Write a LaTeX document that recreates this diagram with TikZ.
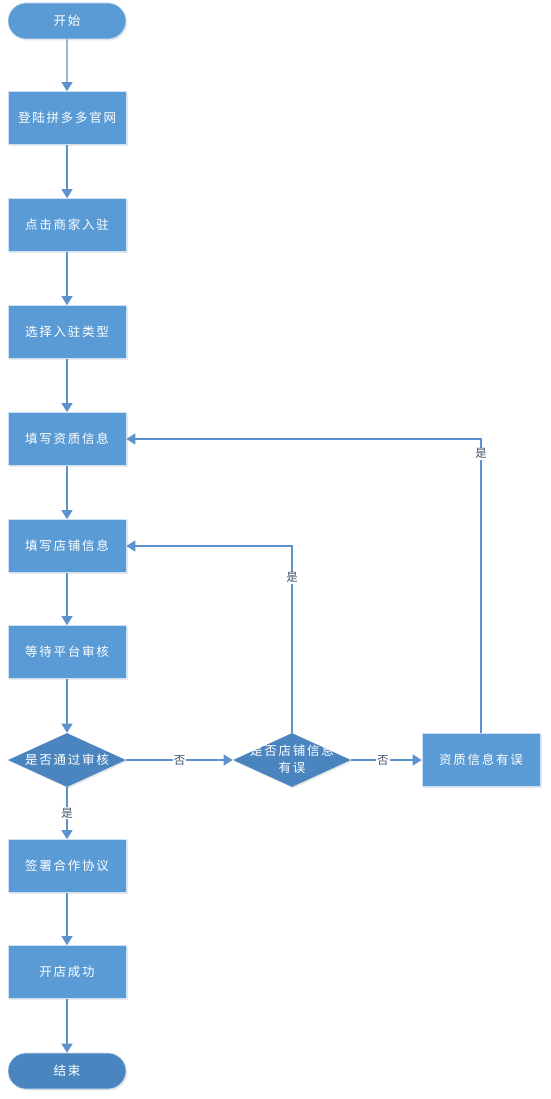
\documentclass[tikz,border=0pt]{standalone}
\usepackage{fontspec}
\setmainfont{Noto Sans CJK SC}
\newfontfamily\cjk[LetterSpace=14]{Noto Sans CJK SC}
\usetikzlibrary{shapes.geometric,shapes.misc,arrows.meta,shadows}
\definecolor{boxblue}{HTML}{5B9BD5}
\definecolor{dkblue}{HTML}{4A85C0}
\definecolor{lineblue}{HTML}{5E92CC}
\definecolor{lbltext}{HTML}{44546A}
\tikzset{
  base/.style={draw=white!70!boxblue, line width=0.6pt, text=white,
    font=\cjk\fontsize{12.5}{17}\selectfont, inner sep=0pt,
    drop shadow={shadow xshift=1.5pt, shadow yshift=-1.5pt, opacity=0.18}},
  procbox/.style={base, rectangle, fill=boxblue, minimum width=118pt, minimum height=53pt},
  termbox/.style={base, rounded rectangle, fill=boxblue, minimum width=118pt, minimum height=36pt},
  decbox/.style={base, diamond, aspect=2.2, fill=dkblue, minimum width=118pt, minimum height=54pt, draw=none},
  conn/.style={draw=lineblue, line width=1.2pt, -{Triangle[length=9pt,width=11pt]}},
  lbl/.style={fill=white, text=lbltext, font=\fontsize{11.5}{13}\selectfont, inner sep=1pt}
}
\begin{document}
\begin{tikzpicture}[x=1pt,y=-1pt]
\useasboundingbox (0,0) rectangle (550,1099);
\node[termbox] (start) at (67,21) {开始};
\node[procbox] (s1) at (67,118) {登陆拼多多官网};
\node[procbox] (s2) at (67,225) {点击商家入驻};
\node[procbox] (s3) at (67,332) {选择入驻类型};
\node[procbox] (s4) at (67,439) {填写资质信息};
\node[procbox] (s5) at (67,546) {填写店铺信息};
\node[procbox] (s6) at (67,652) {等待平台审核};
\node[decbox] (d1) at (67,760) {\makebox[0pt]{是否通过审核}};
\node[decbox] (d2) at (292,760) {\smash{\makebox[0pt]{\raisebox{-4pt}{\begin{tabular}{@{}c@{}}是否店铺信息\\有误\end{tabular}}}}};
\node[procbox] (e1) at (481,760) {资质信息有误};
\node[procbox] (s7) at (67,866) {签署合作协议};
\node[procbox] (s8) at (67,972) {开店成功};
\node[termbox, fill=dkblue] (end) at (67,1071) {结束};

\draw[conn] (start) -- (s1);
\draw[conn] (s1) -- (s2);
\draw[conn] (s2) -- (s3);
\draw[conn] (s3) -- (s4);
\draw[conn] (s4) -- (s5);
\draw[conn] (s5) -- (s6);
\draw[conn] (s6) -- (d1);
\draw[conn] (d1) -- node[lbl, pos=0.5] {是} (s7);
\draw[conn] (s7) -- (s8);
\draw[conn] (s8) -- (end);
\draw[conn] (d1) -- node[lbl, pos=0.5] {否} (d2);
\draw[conn] (d2) -- node[lbl, pos=0.45] {否} (e1);
\coordinate (c1) at (481,439);
\coordinate (c2) at (292,546);
\draw[conn] (e1.north) -- node[lbl, pos=0.95] {是} (c1) -- (s4.east);
\draw[conn] (d2.north) -- node[lbl, pos=0.83] {是} (c2) -- (s5.east);
\end{tikzpicture}
\end{document}
